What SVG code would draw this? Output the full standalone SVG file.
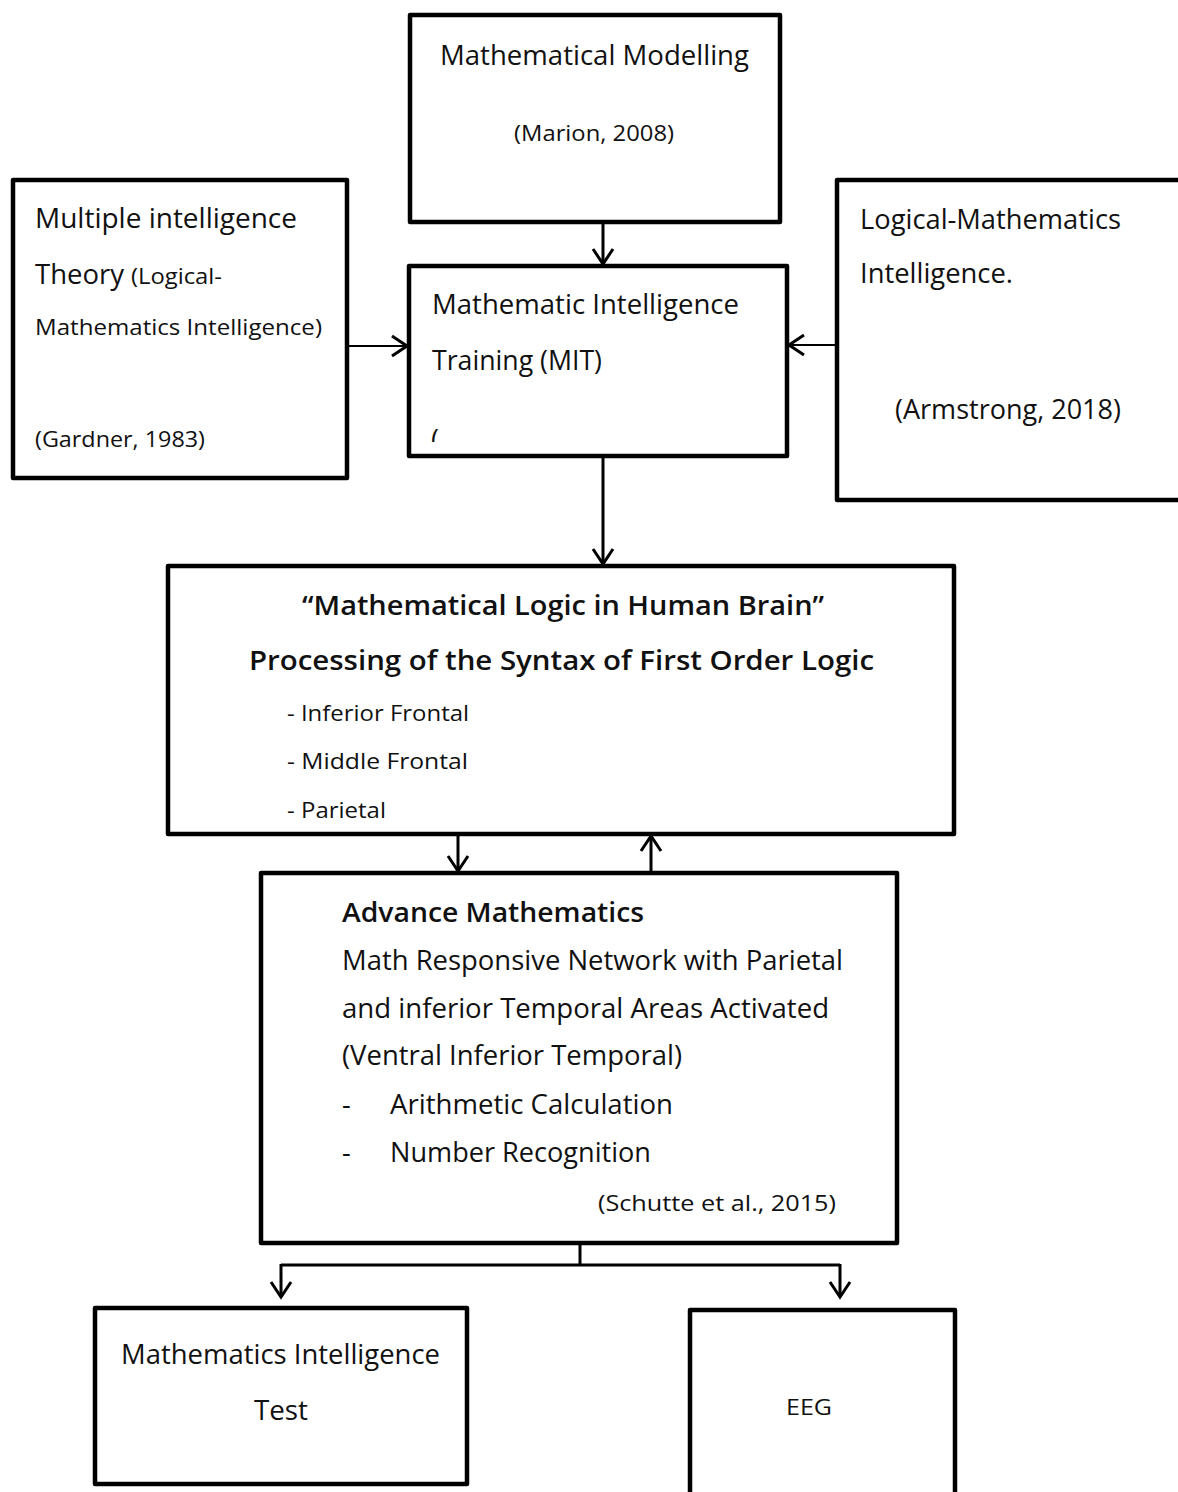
<svg xmlns="http://www.w3.org/2000/svg" width="1178" height="1492" viewBox="0 0 1178 1492">
  <style>
    .box { fill: #ffffff; stroke: #000000; stroke-width: 4.5; stroke-linejoin: round; }
    .t { font-family: "Open Sans", "Noto Sans", "Liberation Sans", sans-serif; fill: #111111; }
    .big { font-size: 27px; }
    .sm { font-size: 22px; }
    .b { font-weight: 600; }
    .link { fill: none; stroke: #000000; stroke-width: 3; }
    .thin { stroke-width: 2.2; }
  </style>
  <defs>
    <marker id="head" markerUnits="userSpaceOnUse" markerWidth="30" markerHeight="30" viewBox="-20 -15 30 30" refX="0" refY="0" orient="auto">
      <path d="M-15,-10 L0,0 L-15,10" fill="none" stroke="#000000" stroke-width="3" stroke-linejoin="miter"/>
    </marker>
    <clipPath id="mitClip">
      <rect x="409" y="266" width="378" height="176"/>
    </clipPath>
  </defs>

  <rect width="1178" height="1492" fill="#ffffff"/>

  <!-- connectors -->
  <g id="connectors">
    <line class="link" x1="603" y1="222" x2="603" y2="264" marker-end="url(#head)"/>
    <line class="link thin" x1="347" y1="346" x2="407" y2="346" marker-end="url(#head)"/>
    <line class="link thin" x1="837" y1="345" x2="789" y2="345" marker-end="url(#head)"/>
    <line class="link" x1="603" y1="456" x2="603" y2="564" marker-end="url(#head)"/>
    <line class="link" x1="458" y1="834" x2="458" y2="871" marker-end="url(#head)"/>
    <line class="link" x1="651" y1="873" x2="651" y2="836" marker-end="url(#head)"/>
    <path class="link" d="M580,1243 V1265"/>
    <path class="link" d="M281,1265 H840"/>
    <line class="link" x1="281" y1="1264" x2="281" y2="1297" marker-end="url(#head)"/>
    <line class="link" x1="840" y1="1264" x2="840" y2="1297" marker-end="url(#head)"/>
  </g>

  <!-- Mathematical Modelling -->
  <g id="modelling">
    <rect class="box" x="410" y="15" width="370" height="207"/>
    <text class="t big" x="440" y="65" textLength="309" lengthAdjust="spacingAndGlyphs">Mathematical Modelling</text>
    <text class="t sm" x="514" y="141" textLength="160" lengthAdjust="spacingAndGlyphs">(Marion, 2008)</text>
  </g>

  <!-- Multiple intelligence theory -->
  <g id="multiple-intelligence">
    <rect class="box" x="13" y="180" width="334" height="298"/>
    <text class="t big" x="35" y="228" textLength="262" lengthAdjust="spacingAndGlyphs">Multiple intelligence</text>
    <text class="t big" x="35" y="284" textLength="89" lengthAdjust="spacingAndGlyphs">Theory</text>
    <text class="t sm" x="131" y="284" textLength="91" lengthAdjust="spacingAndGlyphs">(Logical-</text>
    <text class="t sm" x="35" y="335" textLength="287" lengthAdjust="spacingAndGlyphs">Mathematics Intelligence)</text>
    <text class="t sm" x="35" y="447" textLength="170" lengthAdjust="spacingAndGlyphs">(Gardner, 1983)</text>
  </g>

  <!-- Mathematic Intelligence Training -->
  <g id="mit">
    <rect class="box" x="409" y="266" width="378" height="190"/>
    <text class="t big" x="432" y="314" textLength="307" lengthAdjust="spacingAndGlyphs">Mathematic Intelligence</text>
    <text class="t big" x="432" y="370" textLength="170" lengthAdjust="spacingAndGlyphs">Training (MIT)</text>
    <text class="t big" x="431" y="449" clip-path="url(#mitClip)">(</text>
  </g>

  <!-- Logical-Mathematics Intelligence -->
  <g id="logical-math">
    <rect class="box" x="837" y="180" width="380" height="320"/>
    <text class="t big" x="860" y="229" textLength="261" lengthAdjust="spacingAndGlyphs">Logical-Mathematics</text>
    <text class="t big" x="860" y="283" textLength="153" lengthAdjust="spacingAndGlyphs">Intelligence.</text>
    <text class="t big" x="895" y="419" textLength="226" lengthAdjust="spacingAndGlyphs">(Armstrong, 2018)</text>
  </g>

  <!-- Mathematical Logic in Human Brain -->
  <g id="logic-brain">
    <rect class="box" x="168" y="566" width="786" height="268"/>
    <text class="t big b" x="302" y="615" textLength="522" lengthAdjust="spacingAndGlyphs">“Mathematical Logic in Human Brain”</text>
    <text class="t big b" x="249" y="670" textLength="625" lengthAdjust="spacingAndGlyphs">Processing of the Syntax  of First  Order Logic</text>
    <text class="t sm" x="287" y="721" textLength="182" lengthAdjust="spacingAndGlyphs">- Inferior Frontal</text>
    <text class="t sm" x="287" y="769" textLength="181" lengthAdjust="spacingAndGlyphs">- Middle Frontal</text>
    <text class="t sm" x="287" y="818" textLength="99" lengthAdjust="spacingAndGlyphs">- Parietal</text>
  </g>

  <!-- Advance Mathematics -->
  <g id="advance-math">
    <rect class="box" x="261" y="873" width="636" height="370"/>
    <text class="t big b" x="342" y="922" textLength="302" lengthAdjust="spacingAndGlyphs">Advance Mathematics</text>
    <text class="t big" x="342" y="970" textLength="501" lengthAdjust="spacingAndGlyphs">Math Responsive Network with Parietal</text>
    <text class="t big" x="342" y="1018" textLength="487" lengthAdjust="spacingAndGlyphs">and inferior Temporal Areas Activated</text>
    <text class="t big" x="342" y="1065" textLength="340" lengthAdjust="spacingAndGlyphs">(Ventral Inferior Temporal)</text>
    <text class="t big" x="342" y="1114">-</text>
    <text class="t big" x="390" y="1114" textLength="283" lengthAdjust="spacingAndGlyphs">Arithmetic Calculation</text>
    <text class="t big" x="342" y="1162">-</text>
    <text class="t big" x="390" y="1162" textLength="261" lengthAdjust="spacingAndGlyphs">Number Recognition</text>
    <text class="t sm" x="598" y="1211" textLength="238" lengthAdjust="spacingAndGlyphs">(Schutte et al., 2015)</text>
  </g>

  <!-- Mathematics Intelligence Test -->
  <g id="math-test">
    <rect class="box" x="95" y="1308" width="372" height="176"/>
    <text class="t big" x="121" y="1364" textLength="319" lengthAdjust="spacingAndGlyphs">Mathematics Intelligence</text>
    <text class="t big" x="254" y="1420" textLength="54" lengthAdjust="spacingAndGlyphs">Test</text>
  </g>

  <!-- EEG -->
  <g id="eeg">
    <rect class="box" x="690" y="1310" width="265" height="200"/>
    <text class="t sm" x="786" y="1415" textLength="46" lengthAdjust="spacingAndGlyphs">EEG</text>
  </g>
</svg>
